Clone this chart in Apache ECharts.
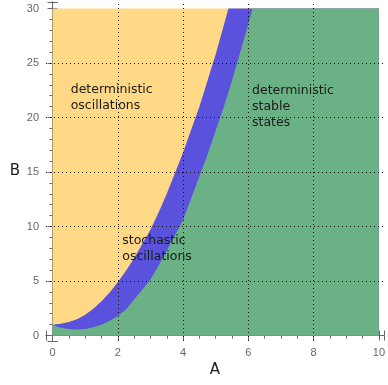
<!DOCTYPE html>
<html>
<head>
<meta charset="utf-8">
<script src="https://cdn.jsdelivr.net/npm/echarts@6/dist/echarts.min.js"></script>
<style>
  html, body { margin: 0; padding: 0; background: #fff; }
  #container { width: 388px; height: 385px; }
</style>
</head>
<body>
<div id="container"></div>
<script>
// boundary orange / blue (upper edge of the stochastic band)
var upperA = [0, 0.25, 0.5, 0.75, 1.0, 1.25, 1.5, 1.75, 2.0, 2.25, 2.5, 2.75, 3.0, 3.25, 3.5, 3.75, 4.0, 4.25, 4.5, 4.75, 5.0, 5.25, 5.39, 10];
var upperB = [1.0, 1.08, 1.25, 1.5, 1.9, 2.45, 3.15, 3.95, 4.9, 5.95, 7.1, 8.4, 9.7, 11.3, 13.0, 14.9, 16.8, 18.9, 21.0, 23.4, 25.8, 28.5, 30, 30];
// boundary blue / green (lower edge of the band)
var lowerA = [0, 0.1, 0.25, 0.5, 0.75, 1.0, 1.25, 1.5, 1.75, 2.0, 2.25, 2.5, 2.75, 3.0, 3.25, 3.5, 3.75, 4.0, 4.25, 4.5, 4.75, 5.0, 5.25, 5.5, 5.75, 6.0, 6.13, 10];
var lowerB = [1.0, 0.85, 0.72, 0.6, 0.56, 0.6, 0.75, 1.0, 1.35, 1.8, 2.4, 3.3, 4.2, 5.15, 6.4, 7.8, 9.2, 10.6, 12.6, 14.6, 16.6, 18.8, 21.0, 23.4, 26.0, 28.6, 30, 30];
// whole region
var boxA = [0, 10];
var boxB = [30, 30];
// dotted grid lines
var gridA = [2, 4, 6, 8];
var gridB = [5, 10, 15, 20, 25];

var regionLabels = [
  {text: 'deterministic\noscillations', x: 70.7, y: 82},
  {text: 'deterministic\nstable\nstates', x: 252, y: 82.7},
  {text: 'stochastic\noscillations', x: 122.3, y: 232.7}
];

function pairs(xs, ys) {
  var out = [];
  for (var i = 0; i < xs.length; i++) out.push([xs[i], ys[i]]);
  return out;
}

var frameColor = '#666';
var labelColor = '#666';

function areaSeries(name, xs, ys, color) {
  return {
    name: name,
    type: 'line',
    data: pairs(xs, ys),
    showSymbol: false,
    symbol: 'none',
    lineStyle: {width: 0},
    areaStyle: {color: color, opacity: 1},
    silent: true
  };
}

var gridLines = [];
gridA.forEach(function (v) { gridLines.push({xAxis: v}); });
gridB.forEach(function (v) { gridLines.push({yAxis: v}); });

var dom = document.getElementById('container');
var myChart = echarts.init(dom, null, {renderer: 'canvas'});

function frameAxis(extra) {
  var a = {
    type: 'value',
    axisLine: {show: true, lineStyle: {color: frameColor}},
    axisTick: {show: true, inside: true, length: 5, lineStyle: {color: frameColor}},
    minorTick: {show: true, length: 3, lineStyle: {color: frameColor}},
    axisLabel: {show: false},
    splitLine: {show: false}
  };
  for (var k in extra) a[k] = extra[k];
  return a;
}

var green = areaSeries('deterministic stable states', lowerA, lowerB, '#6AB285');
green.markLine = {
  silent: true,
  symbol: ['none', 'none'],
  label: {show: false},
  lineStyle: {color: '#000', width: 1, type: [1, 3], opacity: 0.9},
  data: gridLines
};

var option = {
  animation: false,
  grid: {left: 46, right: 3, top: 2, bottom: 44, containLabel: false},
  xAxis: [
    frameAxis({
      min: -0.2, max: 10.15, splitNumber: 5,
      name: 'A', nameLocation: 'middle', nameGap: 17,
      nameTextStyle: {color: '#222', fontSize: 15, fontFamily: 'DejaVu Sans'},
      minorTick: {show: true, splitNumber: 4, length: 3, lineStyle: {color: frameColor}},
      axisLabel: {color: labelColor, fontSize: 11, margin: 6, showMinLabel: false, showMaxLabel: false}
    }),
    frameAxis({
      position: 'top', min: -0.2, max: 10.15, splitNumber: 5,
      minorTick: {show: true, splitNumber: 4, length: 3, lineStyle: {color: frameColor}}
    })
  ],
  yAxis: [
    frameAxis({
      min: -0.5, max: 30.6, splitNumber: 6,
      name: 'B', nameLocation: 'middle', nameGap: 26, nameRotate: 0,
      nameTextStyle: {color: '#222', fontSize: 15, fontFamily: 'DejaVu Sans'},
      minorTick: {show: true, splitNumber: 5, length: 3, lineStyle: {color: frameColor}},
      axisLabel: {color: labelColor, fontSize: 11, margin: 7, showMinLabel: false, showMaxLabel: false}
    }),
    frameAxis({
      position: 'right', min: -0.5, max: 30.6, splitNumber: 6,
      minorTick: {show: true, splitNumber: 5, length: 3, lineStyle: {color: frameColor}}
    })
  ],
  series: [
    areaSeries('deterministic oscillations', boxA, boxB, '#FFD985'),
    areaSeries('stochastic oscillations', upperA, upperB, '#5A52DD'),
    green
  ],
  graphic: regionLabels.map(function (l) {
    return {
      type: 'text', left: l.x, top: l.y, z: 100,
      style: {text: l.text, fill: '#1a1a1a', font: '12.5px "DejaVu Sans"', lineHeight: 16}
    };
  })
};
myChart.setOption(option);
</script>
</body>
</html>
